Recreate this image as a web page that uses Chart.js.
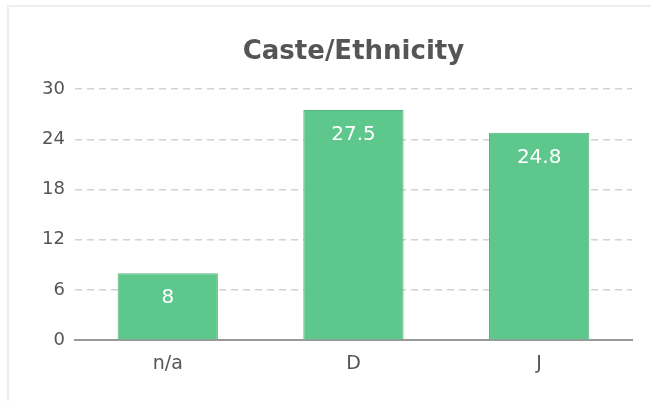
<!DOCTYPE html>
<html>
<head>
<meta charset="utf-8">
<script src="https://cdn.jsdelivr.net/npm/chart.js@4"></script>
<style>
  html, body { margin: 0; padding: 0; background: #fff; overflow: hidden; }
  .card { position: absolute; left: 7px; top: 5px; width: 720px; height: 500px; border: 2px solid #eee; border-right: none; }
  .wrap { position: absolute; left: 0; top: 0; width: 651px; height: 401px; }
</style>
</head>
<body>
<div class="card"></div>
<div class="wrap"><canvas id="casteChart"></canvas></div>
<script>
// data
const categories = ["n/a", "D", "J"];
const values = [8, 27.5, 24.8];
const yTicks = [0, 6, 12, 18, 24, 30];

const fontFamily = '"DejaVu Sans", Verdana, sans-serif';

// white value labels inside the top of each bar
const barLabels = {
  id: 'barLabels',
  afterDatasetsDraw(chart) {
    const ctx = chart.ctx;
    const meta = chart.getDatasetMeta(0);
    ctx.save();
    ctx.fillStyle = '#fff';
    ctx.font = '20px ' + fontFamily;
    ctx.textAlign = 'center';
    ctx.textBaseline = 'middle';
    meta.data.forEach((bar, i) => {
      ctx.fillText(String(values[i]), bar.x, bar.y + 25);
    });
    ctx.restore();
  }
};

const ctx = document.getElementById('casteChart').getContext('2d');
new Chart(ctx, {
  type: 'bar',
  data: {
    labels: categories,
    datasets: [{
      data: values,
      backgroundColor: '#5ec88c',
      borderColor: '#52b57d',
      borderWidth: 1,
      barPercentage: 0.9,
      categoryPercentage: 0.6
    }]
  },
  options: {
    responsive: true,
    maintainAspectRatio: false,
    animation: false,
    layout: { padding: { top: 37, left: 32, right: 19, bottom: 14 } },
    plugins: {
      legend: { display: false },
      tooltip: { enabled: false },
      title: {
        display: true,
        text: 'Caste/Ethnicity',
        color: '#555',
        fullSize: false,
        font: { family: fontFamily, size: 26, weight: 'bold' },
        padding: { top: 0, bottom: 21 }
      }
    },
    scales: {
      x: {
        grid: { display: false, drawTicks: false },
        border: { display: true, color: '#999', width: 2 },
        ticks: { color: '#555', padding: 12, font: { family: fontFamily, size: 19 } }
      },
      y: {
        min: 0,
        max: 30,
        afterBuildTicks(scale) { scale.ticks = yTicks.map(v => ({ value: v })); },
        border: { display: false, dash: [7, 5] },
        grid: {
          drawTicks: false,
          lineWidth: 1.5,
          color: c => (c.tick && c.tick.value === 0) ? 'rgba(0,0,0,0)' : '#d2d2d2'
        },
        ticks: { color: '#555', padding: 10, font: { family: fontFamily, size: 18 } }
      }
    }
  },
  plugins: [barLabels]
});
</script>
</body>
</html>
